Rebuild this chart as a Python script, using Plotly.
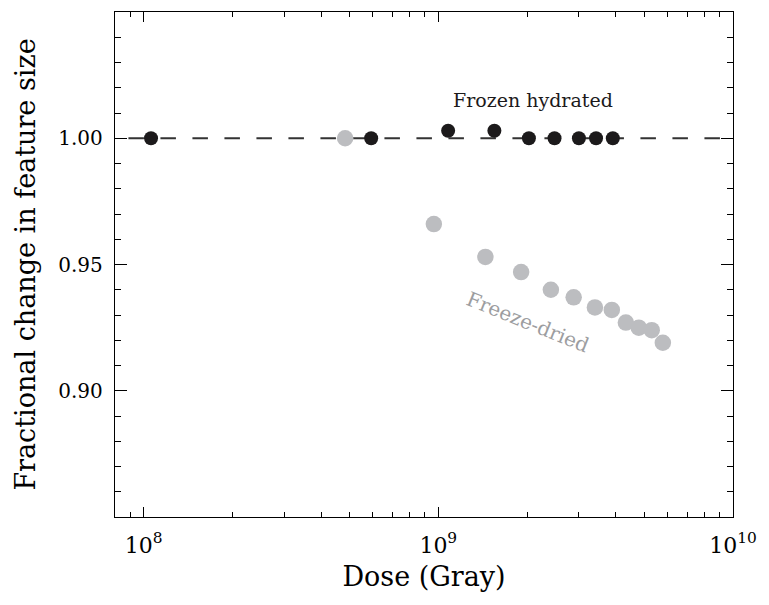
import numpy as np
import plotly.graph_objects as go

# ---- data ----
frozen_dose = [1.06e8, 5.92e8, 1.08e9, 1.55e9, 2.03e9, 2.48e9, 3.0e9, 3.43e9, 3.91e9]
frozen_frac = [1.000, 1.000, 1.003, 1.003, 1.000, 1.000, 1.000, 1.000, 1.000]

dried_dose = [4.83e8, 9.66e8, 1.445e9, 1.91e9, 2.41e9, 2.88e9, 3.40e9, 3.88e9, 4.33e9, 4.79e9, 5.30e9, 5.78e9]
dried_frac = [1.000, 0.966, 0.953, 0.947, 0.940, 0.937, 0.933, 0.932, 0.927, 0.925, 0.924, 0.919]

x_tickvals = [1e8, 1e9, 1e10]
x_ticktext = ["10<sup>8</sup>", "10<sup>9</sup>", "10<sup>10</sup>"]
y_tickvals = [0.90, 0.95, 1.00]
y_ticktext = ["0.90", "0.95", "1.00"]
reference_level = 1.0

XMIN, XMAX = 8e7, 1e10
YMIN, YMAX = 0.85, 1.05

x_minor = [9e7] + [k * 1e8 for k in range(2, 10)] + [k * 1e9 for k in range(2, 10)]
y_minor = [v for v in np.round(np.arange(0.86, 1.05, 0.01), 2) if v not in (0.90, 0.95, 1.00)]

FONT = "DejaVu Serif"
BLACK = "#1c1a1b"
GRAY = "#bcbdc0"

fig = go.Figure()

# dashed reference line (start slightly left of the axis so the dash phase matches)
lx0 = np.log10(XMIN) - 0.063
fig.add_trace(go.Scatter(
    x=[10 ** lx0, XMAX], y=[reference_level, reference_level],
    mode="lines", line=dict(color="#333333", width=1.8, dash="15.5px,16.5px"),
    hoverinfo="skip", showlegend=False,
))

fig.add_trace(go.Scatter(
    x=dried_dose, y=dried_frac, mode="markers",
    marker=dict(color=GRAY, size=16.5, line=dict(width=0)),
    showlegend=False, cliponaxis=False,
))
fig.add_trace(go.Scatter(
    x=frozen_dose, y=frozen_frac, mode="markers",
    marker=dict(color=BLACK, size=14, line=dict(width=0)),
    showlegend=False, cliponaxis=False,
))

fig.add_annotation(x=np.log10(2.1e9), y=1.015, xref="x", yref="y",
                   text="Frozen hydrated", showarrow=False,
                   font=dict(family=FONT, size=19, color=BLACK))
fig.add_annotation(x=np.log10(2.01e9), y=0.9272, xref="x", yref="y",
                   text="Freeze-dried", showarrow=False, textangle=22,
                   font=dict(family=FONT, size=20, color="#9c9da0"))

fig.update_layout(
    template="none",
    width=769, height=605,
    margin=dict(l=107, r=44, t=4, b=96),
    paper_bgcolor="white", plot_bgcolor="white",
    font=dict(family=FONT, size=20, color="black"),
    showlegend=False,
)

fig.update_xaxes(
    type="log", range=[np.log10(XMIN), np.log10(XMAX)], automargin=False,
    showline=True, linecolor="black", linewidth=1.4, mirror="ticks",
    ticks="inside", ticklen=10, tickwidth=1.3, tickcolor="black",
    tickvals=x_tickvals, ticktext=x_ticktext,
    tickfont=dict(family=FONT, size=22, color="black"),
    ticklabelstandoff=8,
    minor=dict(ticks="inside", ticklen=5, tickwidth=1.2, tickcolor="black",
               tickvals=x_minor, showgrid=False),
    showgrid=False, zeroline=False,
    title=dict(text="Dose (Gray)", font=dict(family=FONT, size=27, color="black"), standoff=10),
)
fig.update_yaxes(
    range=[YMIN, YMAX], automargin=False,
    showline=True, linecolor="black", linewidth=1.4, mirror="ticks",
    ticks="inside", ticklen=12, tickwidth=1.3, tickcolor="black",
    tickvals=y_tickvals, ticktext=y_ticktext,
    tickfont=dict(family=FONT, size=20, color="black"),
    ticklabelstandoff=7,
    minor=dict(ticks="inside", ticklen=6, tickwidth=1.2, tickcolor="black",
               tickvals=y_minor, showgrid=False),
    showgrid=False, zeroline=False,
    title=dict(text="Fractional change in feature size", font=dict(family=FONT, size=27, color="black"), standoff=14),
)

fig.write_html("out.html")
